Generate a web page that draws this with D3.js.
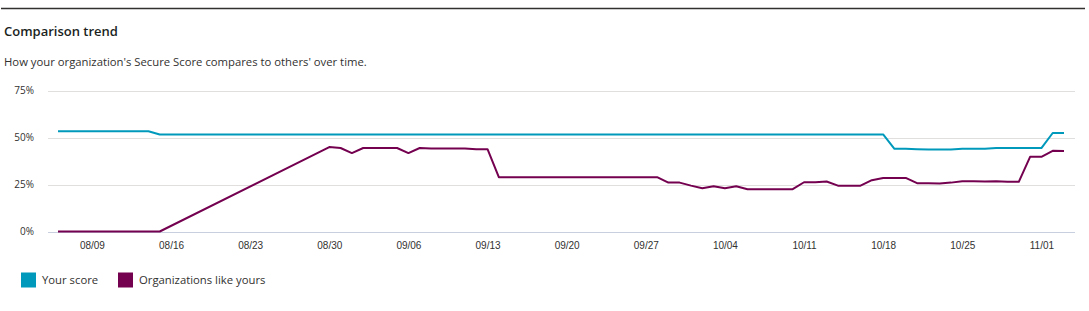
<!DOCTYPE html>
<html>
<head>
<meta charset="utf-8">
<script src="https://cdn.jsdelivr.net/npm/d3@7"></script>
<style>
  body { margin: 0; background: #fff; }
  svg { display: block; font-family: "Segoe UI", "Open Sans", sans-serif; }
</style>
</head>
<body>
<div id="chart"></div>
<script>
// Secure Score comparison trend, one value per day starting 08/06 (null = no data)
const START_DATE = '2020-08-06';
const yourScore = [
    53.3, 53.3, 53.3, 53.3, 53.3, 53.3, 53.3, 53.3, 53.3,
    51.6, 51.6, 51.6, 51.6, 51.6, 51.6, 51.6, 51.6, 51.6, 51.6,
    51.6, 51.6, 51.6, 51.6, 51.6, 51.6, 51.6, 51.6, 51.6, 51.6,
    51.6, 51.6, 51.6, 51.6, 51.6, 51.6, 51.6, 51.6, 51.6, 51.6,
    51.6, 51.6, 51.6, 51.6, 51.6, 51.6, 51.6, 51.6, 51.6, 51.6,
    51.6, 51.6, 51.6, 51.6, 51.6, 51.6, 51.6, 51.6, 51.6, 51.6,
    51.6, 51.6, 51.6, 51.6, 51.6, 51.6, 51.6, 51.6, 51.6, 51.6,
    51.6, 51.6, 51.6, 51.6, 51.6,
    44.0, 44.0, 43.8, 43.6, 43.6, 43.6, 44.0, 44.0, 44.0,
    44.4, 44.4, 44.4, 44.4, 44.4, 52.4, 52.4
];
const orgsLikeYours = [
    0, 0, 0, 0, 0, 0, 0, 0, 0, 0,
    null, null, null, null, null, null, null, null, null, null, null, null, null, null,
    44.9, 44.4, 41.7, 44.4, 44.4, 44.4, 44.4, 41.7, 44.4,
    44.2, 44.2, 44.2, 44.2, 43.8, 43.8,
    28.9, 28.9, 28.9, 28.9, 28.9, 28.9, 28.9, 28.9, 28.9, 28.9, 28.9, 28.9, 28.9, 28.9, 28.9,
    26.0, 26.0, 24.4, 23.0, 24.1, 23.0, 24.1,
    22.5, 22.5, 22.5, 22.5, 22.5,
    26.2, 26.2, 26.6, 24.4, 24.4, 24.4, 27.3, 28.5, 28.5, 28.5,
    25.7, 25.6, 25.5, 26.0, 26.7, 26.7, 26.6, 26.7, 26.4, 26.4,
    39.7, 39.7, 42.9, 42.8
];
const xTickLabels = ['08/09', '08/16', '08/23', '08/30', '09/06', '09/13', '09/20',
                     '09/27', '10/04', '10/11', '10/18', '10/25', '11/01'];
const yTicks = [0, 25, 50, 75];
const seriesNames = ['Your score', 'Organizations like yours'];
const seriesColors = ['#0099bc', '#740050'];

const WIDTH = 1089, HEIGHT = 311;

const start = d3.utcParse('%Y-%m-%d')(START_DATE);
const days = d3.range(yourScore.length).map(i => d3.utcDay.offset(start, i));
const tickDates = xTickLabels.map(s => d3.utcParse('%Y/%m/%d')('2020/' + s));

const x = d3.scaleUtc()
    .domain([days[0], days[days.length - 1]])
    .range([58, 1064]);
const y = d3.scaleLinear()
    .domain([0, 75])
    .range([231.5, 90.5]);

const svg = d3.select('#chart').append('svg')
    .attr('width', WIDTH)
    .attr('height', HEIGHT);

// top rule
svg.append('line')
    .attr('x1', 1).attr('x2', 1085)
    .attr('y1', 8.5).attr('y2', 8.5)
    .attr('stroke', '#323130').attr('stroke-width', 1.3);

svg.append('text')
    .attr('x', 4).attr('y', 36)
    .attr('font-size', 13).attr('font-weight', 600)
    .attr('fill', '#201f1e')
    .text('Comparison trend');

svg.append('text')
    .attr('x', 4).attr('y', 66)
    .attr('font-size', 11.3)
    .attr('fill', '#323130')
    .text("How your organization's Secure Score compares to others' over time.");

// gridlines + y labels
const grid = svg.append('g');
grid.selectAll('line')
    .data(yTicks)
    .join('line')
    .attr('x1', 48).attr('x2', 1075)
    .attr('y1', d => Math.round(y(d)) + 0.5)
    .attr('y2', d => Math.round(y(d)) + 0.5)
    .attr('stroke', d => d === 0 ? '#c8d0e0' : '#e1dfdd');

grid.selectAll('text')
    .data(yTicks)
    .join('text')
    .attr('x', 34)
    .attr('y', d => y(d) + 3.5)
    .attr('text-anchor', 'end')
    .attr('font-size', 10)
    .attr('fill', '#323130')
    .text(d => d + '%');

// x axis labels
const xAxis = d3.axisBottom(x)
    .tickValues(tickDates)
    .tickFormat(d3.utcFormat('%m/%d'))
    .tickSize(0)
    .tickPadding(10);

const gx = svg.append('g')
    .attr('transform', `translate(0,${y(0)})`)
    .call(xAxis);
gx.select('.domain').remove();
gx.selectAll('text')
    .attr('font-size', 10)
    .attr('font-family', null)
    .attr('fill', '#323130');

// lines
const line = d3.line()
    .x(d => x(d.date))
    .y(d => y(d.value));

[yourScore, orgsLikeYours].forEach((vals, k) => {
    const pts = vals
        .map((v, i) => ({ date: days[i], value: v }))
        .filter(d => d.value !== null);
    svg.append('path')
        .datum(pts)
        .attr('fill', 'none')
        .attr('stroke', seriesColors[k])
        .attr('stroke-width', 2)
        .attr('stroke-linejoin', 'round')
        .attr('d', line);
});

// legend
const legendX = [21, 118];
const legend = svg.append('g');
seriesNames.forEach((name, k) => {
    legend.append('rect')
        .attr('x', legendX[k]).attr('y', 272.5)
        .attr('width', 15).attr('height', 15)
        .attr('fill', seriesColors[k]);
    legend.append('text')
        .attr('x', legendX[k] + 21).attr('y', 284)
        .attr('font-size', 11.3)
        .attr('fill', '#323130')
        .text(name);
});
</script>
</body>
</html>
